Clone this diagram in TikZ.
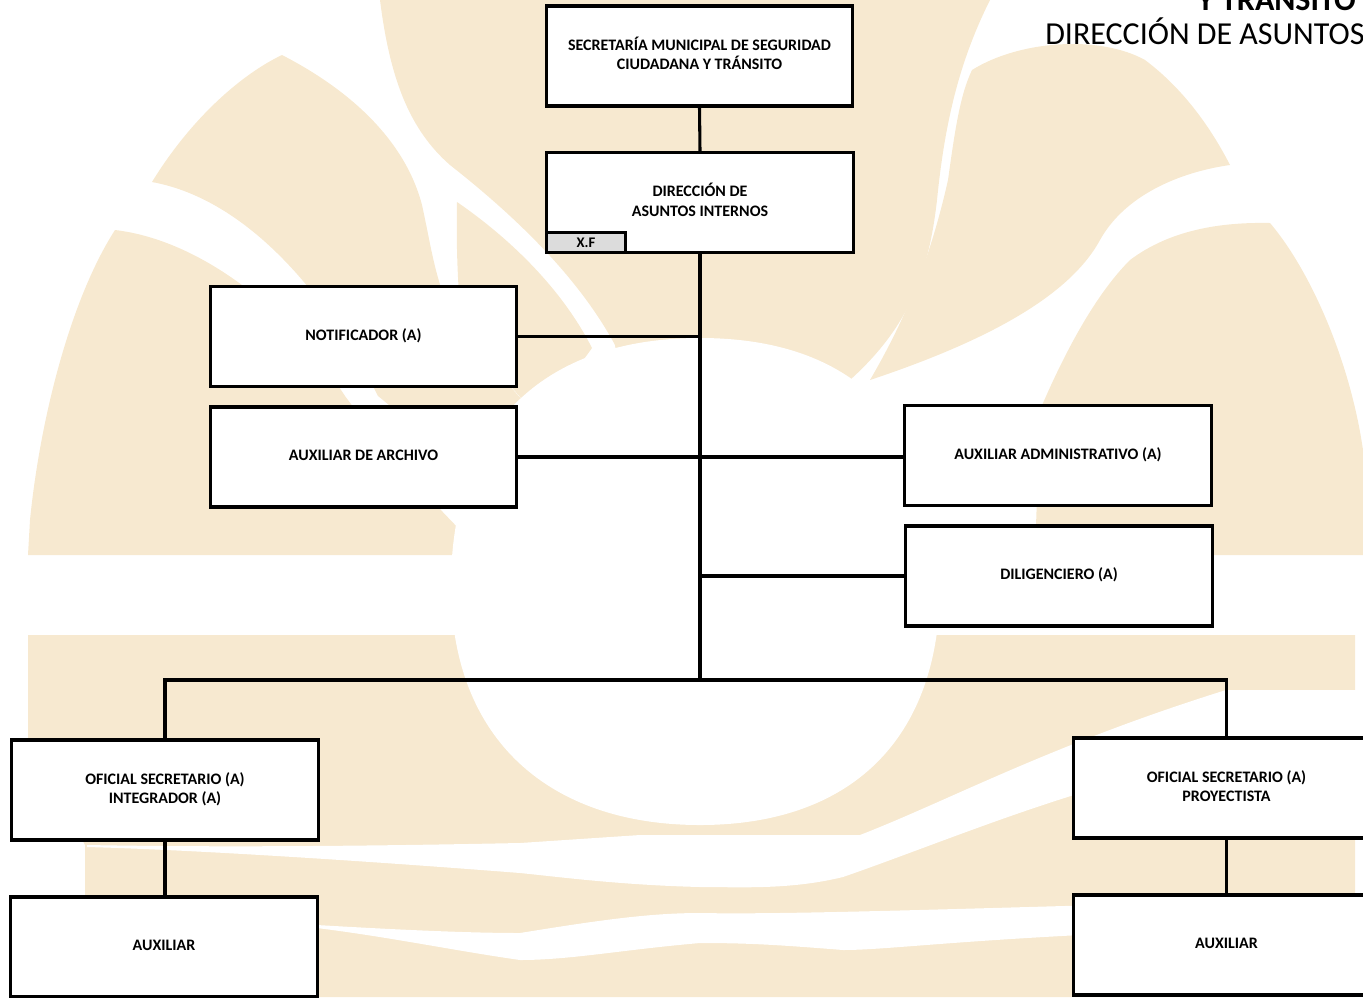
\documentclass[tikz,border=0pt]{standalone}
\usepackage{fontspec}
\setmainfont{Carlito}
\definecolor{wm}{RGB}{247,233,208}
\definecolor{tabgray}{RGB}{220,220,220}
\newcommand{\bx}[1]{\begin{tabular}{@{}c@{}}#1\end{tabular}}
\begin{document}
\begin{tikzpicture}[x=0.75pt,y=-0.75pt,
  box/.style={draw=black, line width=2.4pt, fill=white, minimum width=230pt, minimum height=75pt, inner sep=2pt, align=center, font=\fontsize{12}{14.6}\selectfont\bfseries},
  conn/.style={draw=black, line width=2.3pt},
  band/.style={fill=white, draw=none}]
\useasboundingbox (0,0) rectangle (1363,997);
\clip (0,0) rectangle (1363,997);
% ---------- watermark (upper part) ----------
% T : large central shape
\fill[wm] (380,0) -- (990,0) .. controls (960,60) and (945,120) .. (937,200) .. controls (928,280) and (905,330) .. (850,380) -- (620,380) -- (615,345) .. controls (580,280) and (520,220) .. (450,165) .. controls (410,130) and (390,80) .. (380,0) -- cycle;
% L1 : upper-left leaf
\fill[wm] (152,182) .. controls (190,120) and (240,75) .. (282,55) .. controls (350,90) and (405,140) .. (422,205) .. controls (432,250) and (436,290) .. (460,330) -- (540,420) -- (490,520) .. controls (450,460) and (420,430) .. (378,396) .. controls (330,300) and (250,200) .. (152,182) -- cycle;
% P : small piece between L1 and T
\fill[wm] (457,202) .. controls (505,235) and (560,285) .. (592,348) -- (540,420) -- (462,330) .. controls (458,290) and (456,250) .. (457,202) -- cycle;
% L2 : lower-left piece
\fill[wm] (28,555) -- (30,520) .. controls (40,420) and (70,300) .. (115,230) .. controls (200,240) and (290,310) .. (345,396) .. controls (385,450) and (430,500) .. (470,540) -- (470,555) -- cycle;
% M : leaf right of T
\fill[wm] (972,70) .. controls (1020,40) and (1100,35) .. (1145,60) .. controls (1185,90) and (1212,130) .. (1230,165) .. controls (1180,172) and (1125,195) .. (1100,240) .. controls (1070,295) and (990,340) .. (870,380) .. controls (905,320) and (930,260) .. (948,180) .. controls (955,130) and (960,95) .. (972,70) -- cycle;
% R : right leaf
\fill[wm] (1270,223) .. controls (1310,270) and (1350,360) .. (1363,450) -- (1363,555) -- (1035,555) -- (1040,410) .. controls (1070,340) and (1100,290) .. (1130,260) .. controls (1170,230) and (1220,222) .. (1270,223) -- cycle;
% ---------- watermark (lower part) ----------
\fill[wm] (28,635) -- (1355,635) -- (1355,997) -- (85,997) -- (85,845) -- (28,740) -- cycle;
% dome
\fill[band] (451,585) .. controls (451,430) and (540,338) .. (700,338) .. controls (860,338) and (940,430) .. (940,585) .. controls (940,740) and (850,825) .. (700,825) .. controls (550,825) and (451,740) .. (451,585) -- cycle;
% band A
\fill[band] (87,845) .. controls (250,848) and (420,845) .. (520,843) -- (640,835) -- (860,835) .. controls (950,800) and (1050,745) .. (1226,690) -- (1363,690) -- (1363,765) -- (1226,760) .. controls (1100,775) and (950,840) .. (843,877) .. controls (790,890) and (740,887) .. (700,887) .. controls (620,885) and (560,877) .. (520,873) .. controls (380,862) and (200,850) .. (87,847) -- cycle;
% band B
\fill[band] (300,924) .. controls (400,930) and (470,933) .. (520,933) .. controls (600,920) and (650,913) .. (700,913) .. controls (800,915) and (1000,907) .. (1363,898) -- (1363,925) .. controls (1000,933) and (900,950) .. (843,950) .. controls (780,945) and (750,943) .. (700,943) .. controls (620,950) and (570,960) .. (520,960) .. controls (450,950) and (380,935) .. (300,926) -- cycle;
% ---------- header ----------
\node[anchor=base west, inner sep=0pt, font=\fontsize{24}{24}\selectfont\bfseries] (hdrb) at (1197,10) {Y TRÁNSITO};
\node[anchor=base west, inner sep=0pt, font=\fontsize{24}{24}\selectfont] (hdr) at (1045,44) {DIRECCIÓN DE ASUNTOS};
% ---------- boxes ----------
\node[box] (sec) at (699.5,56) {\bx{SECRETARÍA MUNICIPAL DE SEGURIDAD\\CIUDADANA Y TRÁNSITO}};
\node[box] (dir) at (700,202.5) {\bx{DIRECCIÓN DE\\ASUNTOS INTERNOS}};
\node[draw=black, line width=2.4pt, fill=tabgray, minimum width=59pt, minimum height=15pt, inner sep=0pt, anchor=south west, font=\fontsize{11}{12}\selectfont\bfseries] (xf) at (dir.south west) {X.F};
\node[box] (noti) at (363.5,336.5) {\bx{NOTIFICADOR (A)}};
\node[box] (arch) at (363.5,457) {\bx{AUXILIAR DE ARCHIVO}};
\node[box] (adm) at (1058,455.5) {\bx{AUXILIAR ADMINISTRATIVO (A)}};
\node[box] (dil) at (1059,576) {\bx{DILIGENCIERO (A)}};
\node[box] (osi) at (165,790) {\bx{OFICIAL SECRETARIO (A)\\INTEGRADOR (A)}};
\node[box] (auxl) at (164,947) {\bx{AUXILIAR}};
\node[box] (osp) at (1226.5,788) {\bx{OFICIAL SECRETARIO (A)\\PROYECTISTA}};
\node[box] (auxr) at (1226.5,945) {\bx{AUXILIAR}};
% ---------- connectors ----------
\coordinate (trunk) at (700,680);
\draw[conn] (sec.south) -- (dir.north);
\draw[conn] (dir.south) -- (trunk);
\draw[conn] (noti.east) -- (noti.east -| trunk);
\draw[conn] (arch.east) -- (arch.east -| adm.west);
\draw[conn] (dil.west) -- (dil.west -| trunk);
\draw[conn] (osi.north) |- (trunk) -| (osp.north);
\draw[conn] (osi.south) -- (osi.south |- auxl.north);
\draw[conn] (osp.south) -- (auxr.north);
\end{tikzpicture}
\end{document}
